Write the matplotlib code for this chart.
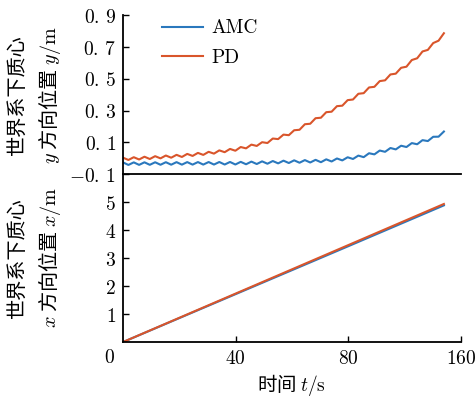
import matplotlib
matplotlib.use('Agg')
import matplotlib.pyplot as plt

plt.rcParams['mathtext.fontset'] = 'cm'
plt.rcParams['axes.unicode_minus'] = True

# 时间（横轴位置，刻度标注为 0, 40, 80, 160）
t_y = [0.0, 1.9, 3.8, 5.7, 7.6, 9.5, 11.4, 13.3, 15.2, 17.1, 19.0, 20.9, 22.8, 24.7,
       26.6, 28.5, 30.4, 32.3, 34.2, 36.1, 38.0, 39.9, 41.8, 43.7, 45.6, 47.5, 49.4,
       51.3, 53.2, 55.1, 57.0, 58.9, 60.8, 62.7, 64.6, 66.5, 68.4, 70.3, 72.2, 74.1,
       76.0, 77.9, 79.8, 81.7, 83.6, 85.5, 87.4, 89.3, 91.2, 93.1, 95.0, 96.9, 98.8,
       100.7, 102.6, 104.5, 106.4, 108.3, 110.2, 112.1, 114.0]

# y 方向位置
y_amc = [-0.027, -0.0428, -0.0266, -0.0424, -0.0262, -0.042, -0.0259, -0.0417, -0.0255,
         -0.0413, -0.0251, -0.041, -0.0249, -0.0408, -0.0247, -0.0406, -0.0245, -0.0404,
         -0.0243, -0.0402, -0.0241, -0.040, -0.0233, -0.0385, -0.0218, -0.037, -0.0202,
         -0.0352, -0.0181, -0.0329, -0.0158, -0.0307, -0.0137, -0.0289, -0.0122, -0.0274,
         -0.0106, -0.0256, -0.0074, -0.0211, -0.002, -0.0142, 0.0056, -0.0052, 0.0161,
         0.0063, 0.031, 0.0238, 0.048, 0.040, 0.064, 0.0552, 0.0784, 0.0702, 0.095,
         0.0877, 0.1136, 0.1078, 0.1348, 0.1354, 0.168]
y_pd = [0.003, -0.0115, 0.006, -0.0084, 0.0091, -0.0054, 0.0125, -0.0014, 0.0167, 0.0028,
        0.0209, 0.0075, 0.0268, 0.014, 0.0332, 0.0205, 0.040, 0.0285, 0.0491, 0.0376,
        0.0582, 0.0468, 0.0702, 0.0618, 0.0854, 0.077, 0.1006, 0.0955, 0.1238, 0.1202,
        0.1485, 0.1449, 0.176, 0.179, 0.214, 0.217, 0.252, 0.255, 0.290, 0.293, 0.328,
        0.331, 0.366, 0.370, 0.406, 0.410, 0.446, 0.450, 0.486, 0.491, 0.528, 0.533,
        0.570, 0.577, 0.619, 0.630, 0.673, 0.683, 0.726, 0.741, 0.788]

# x 方向位置
t_x = [0.0, 40.0, 80.0, 114.0]
x_amc = [0.0, 1.71, 3.42, 4.88]
x_pd = [0.0, 1.73, 3.46, 4.93]

xticks = [40, 80, 120]
xtick_labels = ['40', '80', '160']
yticks_top = [-0.1, 0.1, 0.3, 0.5, 0.7, 0.9]
ytick_labels_top = [r'$-0.\,1$', r'$0.\,1$', r'$0.\,3$', r'$0.\,5$', r'$0.\,7$', r'$0.\,9$']
yticks_bot = [1, 2, 3, 4, 5]

c_amc = '#2a78bd'
c_pd = '#d9552b'
cjk = ['Noto Sans CJK SC', 'DejaVu Sans']

fig = plt.figure(figsize=(4.77, 3.97), dpi=100)
ax1 = fig.add_axes([0.258, 0.5617, 0.708, 0.3993])
ax2 = fig.add_axes([0.258, 0.1385, 0.708, 0.4232])
ax2.patch.set_visible(False)
ax1.set_zorder(2)
ax1.patch.set_visible(False)

for ax in (ax1, ax2):
    ax.spines['top'].set_visible(False)
    ax.spines['right'].set_visible(False)
    ax.spines['left'].set_linewidth(1.3)
    ax.spines['bottom'].set_linewidth(1.3)
    ax.tick_params(direction='in', length=4, width=1.0, labelsize=14, pad=5)
    ax.set_xlim(0, 120)

# 上图
ax1.plot(t_y, y_amc, color=c_amc, lw=1.5, label='AMC')
ax1.plot(t_y, y_pd, color=c_pd, lw=1.5, label='PD')
ax1.set_ylim(-0.1, 0.9)
ax1.set_yticks(yticks_top)
ax1.set_yticklabels(ytick_labels_top)
ax1.set_xticks([])
ax1.set_ylabel('世界系下质心\n$y$ 方向位置 $y/\\mathrm{m}$', family=cjk, fontsize=14.5,
               linespacing=1.4, va='center')
ax1.yaxis.set_label_coords(-0.26, 0.5)
ax1.legend(loc='upper left', bbox_to_anchor=(0.115, 0.975), frameon=False,
           borderaxespad=0, borderpad=0, handlelength=2.1, handletextpad=0.45,
           labelspacing=0.6, prop={'family': 'cmr10', 'size': 14})

# 下图
ax2.plot(t_x, x_amc, color=c_amc, lw=1.5)
ax2.plot(t_x, x_pd, color=c_pd, lw=1.5)
ax2.set_ylim(0, 6)
ax2.set_yticks(yticks_bot)
ax2.set_yticklabels(['$%d$' % v for v in yticks_bot])
ax2.set_xticks(xticks)
ax2.set_xticklabels(['$%s$' % s for s in xtick_labels])
ax2.text(-0.04, -0.09, '$0$', transform=ax2.transAxes, ha='center', va='center', fontsize=14)
ax2.set_ylabel('世界系下质心\n$x$ 方向位置 $x/\\mathrm{m}$', family=cjk, fontsize=14.5,
               linespacing=1.4, va='center')
ax2.yaxis.set_label_coords(-0.26, 0.5)
ax2.set_xlabel('时间 $t/\\mathrm{s}$', family=cjk, fontsize=14, labelpad=3)

fig.savefig('out.png', dpi=100)
